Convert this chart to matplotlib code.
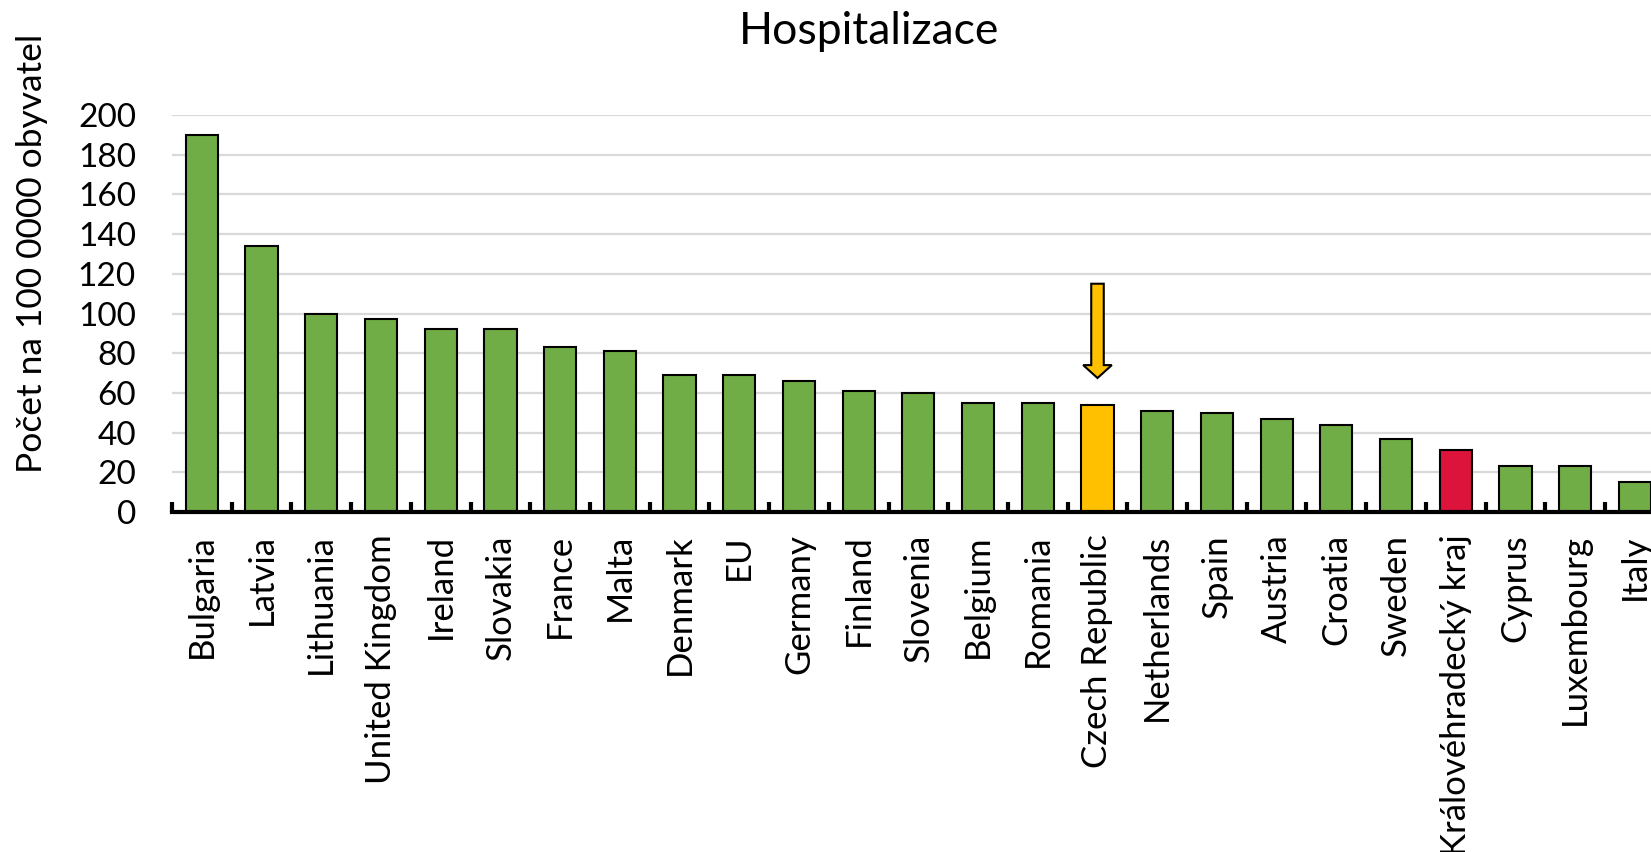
import numpy as np
import matplotlib.pyplot as plt
from matplotlib.ticker import FixedLocator

plt.rcParams['font.family'] = ['Lato', 'DejaVu Sans']

# Data
countries = ['Bulgaria', 'Latvia', 'Lithuania', 'United Kingdom', 'Ireland', 'Slovakia',
             'France', 'Malta', 'Denmark', 'EU', 'Germany', 'Finland', 'Slovenia',
             'Belgium', 'Romania', 'Czech Republic', 'Netherlands', 'Spain', 'Austria',
             'Croatia', 'Sweden', 'Královéhradecký kraj', 'Cyprus', 'Luxembourg', 'Italy']
values = [190, 134, 100, 97, 92, 92, 83, 81, 69, 69, 66, 61, 60,
          55, 55, 54, 51, 50, 47, 44, 37, 31, 23, 23, 15]
highlight = {'Czech Republic': '#FFC000', 'Královéhradecký kraj': '#DC143C'}
y_ticks = [0, 20, 40, 60, 80, 100, 120, 140, 160, 180, 200]

green = '#70AD47'
colors = [highlight.get(c, green) for c in countries]

fig = plt.figure(figsize=(16.51, 8.52), dpi=100)
ax = fig.add_axes([172 / 1651, 1 - 512 / 852, 1 - 172 / 1651, (512 - 115) / 852])

x = np.arange(len(countries))
ax.bar(x, values, width=0.54, color=colors, edgecolor='black', linewidth=1.5, zorder=3)

# Arrow pointing at the Czech Republic bar
cz = countries.index('Czech Republic')
ax.arrow(cz, 115, 0, -47.5, width=0.21, head_width=0.48, head_length=6.5,
         length_includes_head=True, fc='#FFC000', ec='black', lw=1.5, zorder=4)

ax.set_xlim(-0.5, 24.27)
ax.set_ylim(0, 200)
ax.set_yticks(y_ticks)
ax.yaxis.grid(True, color='#D9D9D9', linewidth=1.6, zorder=0)
ax.tick_params(axis='y', length=0, labelsize=24, pad=26)

ax.set_xticks(x)
ax.set_xticklabels(countries, rotation=90, fontsize=25)
ax.tick_params(axis='x', which='major', length=0, pad=16)
ax.xaxis.set_minor_locator(FixedLocator(np.arange(-0.5, len(countries), 1.0)))
ax.tick_params(axis='x', which='minor', direction='in', length=7, width=3, color='black')

for s in ['top', 'right', 'left']:
    ax.spines[s].set_visible(False)
ax.spines['bottom'].set_linewidth(3)
ax.spines['bottom'].set_zorder(5)

fig.text(869 / 1651, 1 - 32 / 852, 'Hospitalizace', fontsize=32, ha='center', va='center')
fig.text(32 / 1651, 1 - 253 / 852, 'Počet na 100 0000 obyvatel', fontsize=25.5,
         rotation=90, ha='center', va='center')

fig.savefig('out.png', dpi=100)
